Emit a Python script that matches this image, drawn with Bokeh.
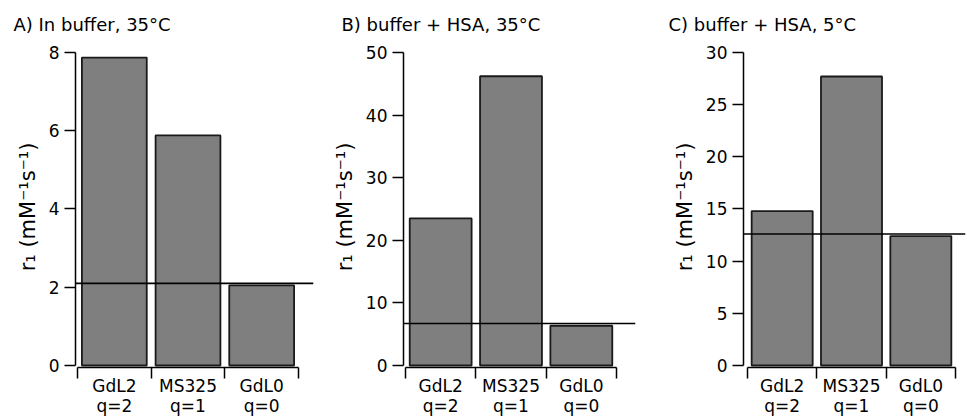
from bokeh.plotting import figure
from bokeh.layouts import row
from bokeh.models import FixedTicker, Span, Range1d, ColumnDataSource
from bokeh.embed import file_html
from bokeh.resources import INLINE

# ---- data ----
categories = ["GdL2", "MS325", "GdL0"]
hydration = ["q=2", "q=1", "q=0"]
titles = ["A) In buffer, 35°C", "B) buffer + HSA, 35°C", "C) buffer + HSA, 5°C"]
r1_buffer_35 = [7.87, 5.88, 2.05]
r1_hsa_35 = [23.5, 46.2, 6.35]
r1_hsa_5 = [14.8, 27.7, 12.4]
reference_line = [2.1, 6.7, 12.6]
y_max = [8, 50, 30]
y_step = [2, 10, 5]
y_label = "r\u2081 (mM\u207b\u00b9s\u207b\u00b9)"

series = [r1_buffer_35, r1_hsa_35, r1_hsa_5]

# ---- layout geometry (pixels) ----
# (figure width, border left, border right, px from frame left to x=0, px length of x axis 0..3, title offset)
geom = [
    (320, 75, 7, 2, 221, -62),
    (320, 83, 5, 2, 211, -62),
    (327, 103, 2, 4, 208, -75),
]
TOP, BOTTOM, H = 46, 50, 418
FONT = "DejaVu Sans"

figs = []
for i in range(3):
    W, bl, br, x0px, xlen, toff = geom[i]
    frame_w = W - bl - br
    frame_h = H - TOP - BOTTOM
    sx = xlen / 3.0
    x_start = -x0px / sx
    x_end = x_start + frame_w / sx
    sy = (frame_h - 8) / y_max[i]
    y_start = -2 / sy
    y_end = y_start + frame_h / sy

    p = figure(width=W, height=H, output_backend="svg", toolbar_location=None,
               x_range=Range1d(x_start, x_end), y_range=Range1d(y_start, y_end),
               min_border_left=bl, min_border_right=br,
               min_border_top=TOP, min_border_bottom=BOTTOM,
               title=titles[i])
    p.outline_line_color = None
    p.xgrid.visible = False
    p.ygrid.visible = False
    p.background_fill_color = "white"
    p.border_fill_color = "white"

    p.title.text_font = FONT
    p.title.text_font_size = "18px"
    p.title.text_font_style = "normal"
    p.title.text_color = "black"
    p.title.align = "left"
    p.title.offset = toff
    p.title.standoff = 23

    xs = [k + 0.5 for k in range(len(categories))]
    src = ColumnDataSource(dict(x=xs, top=series[i], cat=categories))
    p.vbar(x="x", top="top", bottom=0, width=0.88, source=src,
           fill_color="#7f7f7f", line_color="#1a1a1a", line_width=1.8)

    p.add_layout(Span(location=reference_line[i], dimension="width",
                      line_color="black", line_width=1.6))

    # x axis
    xa = p.xaxis[0]
    xa.ticker = FixedTicker(ticks=xs, minor_ticks=[float(k) for k in range(len(categories) + 1)])
    xa.major_label_overrides = {x: f"{c}\n{q}" for x, c, q in zip(xs, categories, hydration)}
    xa.bounds = (0, len(categories))
    xa.major_tick_out = 0
    xa.major_tick_in = 0
    xa.minor_tick_out = 11
    xa.minor_tick_in = 0
    xa.minor_tick_line_color = "black"
    xa.minor_tick_line_width = 1.5
    xa.axis_line_color = "black"
    xa.axis_line_width = 1.5
    xa.major_label_standoff = -3
    xa.major_label_text_font = FONT
    xa.major_label_text_font_size = "17px"
    xa.major_label_text_line_height = 1.0
    xa.major_label_text_color = "black"

    # y axis
    ya = p.yaxis[0]
    ya.ticker = FixedTicker(ticks=list(range(0, y_max[i] + 1, y_step[i])), minor_ticks=[])
    ya.bounds = (0, y_max[i])
    ya.major_tick_out = 11
    ya.major_tick_in = 0
    ya.major_tick_line_color = "black"
    ya.major_tick_line_width = 1.5
    ya.axis_line_color = "black"
    ya.axis_line_width = 1.5
    ya.major_label_standoff = 5
    ya.major_label_text_font = FONT
    ya.major_label_text_font_size = "17px"
    ya.major_label_text_color = "black"
    ya.axis_label = y_label
    ya.axis_label_text_font = FONT
    ya.axis_label_text_font_size = "21px"
    ya.axis_label_text_font_style = "normal"
    ya.axis_label_text_color = "black"
    ya.axis_label_standoff = 6

    figs.append(p)

layout = row(*figs)
open("out.html", "w").write(file_html(layout, INLINE))
